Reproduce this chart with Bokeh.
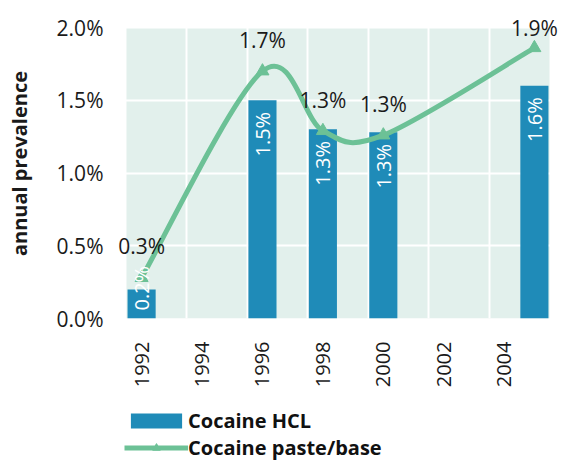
import numpy as np
from bokeh.plotting import figure
from bokeh.layouts import column
from bokeh.models import (ColumnDataSource, FixedTicker, LabelSet, Legend, LegendItem, Range1d,
                          BoxAnnotation)
from bokeh.core.properties import value
from bokeh.embed import file_html
from bokeh.resources import INLINE

# ---- data ----
bar_years = [1992, 1996, 1998, 2000, 2005]
hcl_values = [0.2, 1.5, 1.3, 1.28, 1.6]            # Cocaine HCL, %
line_years = [1992, 1996, 1998, 2000, 2005]
paste_values = [0.28, 1.70, 1.29, 1.26, 1.86]      # Cocaine paste/base, %
y_ticks = [0.0, 0.5, 1.0, 1.5, 2.0]
y_tick_labels = ["0.0%", "0.5%", "1.0%", "1.5%", "2.0%"]
x_ticks = [1992, 1994, 1996, 1998, 2000, 2002, 2004]
series_names = ["Cocaine HCL", "Cocaine paste/base"]
y_title = "annual prevalence"

BLUE = "#1f8bb8"
GREEN = "#6cc196"
BG = "#e2f0ec"
FONT = "Open Sans"

# plot-area extent (years, percent)
X0, X1 = 1991.5, 2005.5
Y0, Y1 = 0.0, 2.0

# layout in pixels (frame is a bit larger than the tinted plot area so labels are not clipped)
W, H, H_LEG = 561, 400, 60
AREA_L, AREA_R, AREA_T, AREA_B = 126, 549, 27, 318     # tinted area, canvas px
FR_L, FR_T = 112, 8                                     # frame left / top, canvas px
FR_R = W
px_x = (AREA_R - AREA_L) / (X1 - X0)
px_y = (AREA_B - AREA_T) / (Y1 - Y0)
x_range = Range1d(X0 - (AREA_L - FR_L) / px_x, X1 + (FR_R - AREA_R) / px_x)
y_range = Range1d(Y0, Y1 + (AREA_T - FR_T) / px_y)

p = figure(width=W, height=H, output_backend="svg", toolbar_location=None,
           x_range=x_range, y_range=y_range,
           min_border_left=FR_L, min_border_right=0, min_border_top=FR_T,
           min_border_bottom=H - AREA_B)
p.outline_line_color = None
p.background_fill_color = "white"
p.border_fill_color = "white"

p.add_layout(BoxAnnotation(left=X0, right=X1, bottom=Y0, top=Y1, fill_color=BG, fill_alpha=1,
                           line_color=None, level="image"))

# grids (white on white outside the tinted area, so invisible there)
p.xgrid.ticker = FixedTicker(ticks=[1993.5 + 2 * i for i in range(6)])
p.xgrid.grid_line_color = "white"
p.xgrid.grid_line_width = 2
p.ygrid.ticker = FixedTicker(ticks=y_ticks)
p.ygrid.grid_line_color = "white"
p.ygrid.grid_line_width = 2

# axes
p.yaxis.ticker = FixedTicker(ticks=y_ticks)
p.yaxis.major_label_overrides = {t: l for t, l in zip(y_ticks, y_tick_labels)}
p.xaxis.ticker = FixedTicker(ticks=x_ticks)
p.xaxis.major_label_overrides = {t: str(t) for t in x_ticks}
p.xaxis.major_label_orientation = np.pi / 2
for ax in (p.xaxis[0], p.yaxis[0]):
    ax.axis_line_color = None
    ax.major_tick_line_color = None
    ax.minor_tick_line_color = None
    ax.major_tick_out = 0
    ax.major_tick_in = 0
    ax.minor_tick_out = 0
    ax.major_label_text_font = FONT
    ax.major_label_text_color = "#1a1a1a"
p.yaxis.major_label_text_font_size = "21px"
p.yaxis.major_label_standoff = 9
p.xaxis.major_label_text_font_size = "20px"
p.xaxis.major_label_standoff = 23
p.yaxis.axis_label = y_title
p.yaxis.axis_label_text_font = FONT
p.yaxis.axis_label_text_font_size = "20px"
p.yaxis.axis_label_text_font_style = "bold"
p.yaxis.axis_label_text_color = "#1a1a1a"
p.yaxis.axis_label_standoff = 21

# bars
bar_src = ColumnDataSource(dict(x=bar_years, top=hcl_values))
p.vbar(x="x", top="top", width=0.93, source=bar_src, fill_color=BLUE, line_color=None)

# smoothed line (Catmull-Rom -> cubic Bezier, computed from the data points)
lx = np.array(line_years, dtype=float)
ly = np.array(paste_values, dtype=float)
n = len(lx)
x0s, y0s, x1s, y1s, c0x, c0y, c1x, c1y = [], [], [], [], [], [], [], []
for i in range(n - 1):
    pxm = lx[i - 1] if i > 0 else lx[i]
    pym = ly[i - 1] if i > 0 else ly[i]
    pxp = lx[i + 2] if i + 2 < n else lx[i + 1]
    pyp = ly[i + 2] if i + 2 < n else ly[i + 1]
    x0s.append(lx[i]); y0s.append(ly[i]); x1s.append(lx[i + 1]); y1s.append(ly[i + 1])
    c0x.append(lx[i] + (lx[i + 1] - pxm) / 6); c0y.append(ly[i] + (ly[i + 1] - pym) / 6)
    c1x.append(lx[i + 1] - (pxp - lx[i]) / 6); c1y.append(ly[i + 1] - (pyp - ly[i]) / 6)
bz_src = ColumnDataSource(dict(x0=x0s, y0=y0s, x1=x1s, y1=y1s, cx0=c0x, cy0=c0y, cx1=c1x, cy1=c1y))
p.bezier(x0="x0", y0="y0", x1="x1", y1="y1", cx0="cx0", cy0="cy0", cx1="cx1", cy1="cy1",
         source=bz_src, line_color=GREEN, line_width=5)
line_src = ColumnDataSource(dict(x=line_years, y=paste_values))
p.scatter(x="x", y="y", source=line_src, marker="triangle", size=13,
          fill_color=GREEN, line_color=GREEN)

# bar labels (white, rotated, inside end; small bars labelled from the base)
hv = np.array(hcl_values)
fits = hv >= 0.4
in_src = ColumnDataSource(dict(x=[b for b, f in zip(bar_years, fits) if f],
                               y=list(hv[fits] - 0.08),
                               t=[f"{v:.1f}%" for v in hv[fits]]))
low_src = ColumnDataSource(dict(x=[b for b, f in zip(bar_years, fits) if not f],
                                y=[0.055] * int((~fits).sum()),
                                t=[f"{v:.1f}%" for v in hv[~fits]]))
for src, align in ((in_src, "right"), (low_src, "left")):
    p.add_layout(LabelSet(x="x", y="y", text="t", source=src, angle=np.pi / 2,
                          text_align=align, text_baseline="middle", text_color="white",
                          text_font=value(FONT), text_font_size="20px"))

# line labels
ly_lab = np.minimum(ly + 0.215, 2.0)
lab_src = ColumnDataSource(dict(x=line_years, y=list(ly_lab), t=[f"{v:.1f}%" for v in ly]))
p.add_layout(LabelSet(x="x", y="y", text="t", source=lab_src, text_align="center",
                      text_baseline="middle", text_color="#1a1a1a", text_font=value(FONT),
                      text_font_size="21px"))

# ---- legend strip (separate figure; its glyphs fall outside its ranges) ----
p2 = figure(width=W, height=H_LEG, output_backend="svg", toolbar_location=None,
            x_range=Range1d(0, 1), y_range=Range1d(0, 1), min_border=0,
            x_axis_location=None, y_axis_location=None)
p2.grid.visible = False
p2.outline_line_color = None
r_bar = p2.vbar(x="x", top="top", width=0.93, source=bar_src, fill_color=BLUE, line_color=None)
r_line = p2.line(x="x", y="y", source=line_src, line_color=GREEN, line_width=5)
r_mark = p2.scatter(x="x", y="y", source=line_src, marker="triangle", size=13,
                    fill_color=GREEN, line_color=GREEN)
legend = Legend(items=[LegendItem(label=series_names[0], renderers=[r_bar]),
                       LegendItem(label=series_names[1], renderers=[r_line, r_mark])],
                location=(12, -1), orientation="vertical",
                glyph_width=64, glyph_height=19, label_height=19, spacing=0,
                label_standoff=0, padding=0, margin=0,
                border_line_color=None, background_fill_alpha=0,
                label_text_font=FONT, label_text_font_size="20px",
                label_text_line_height=1.0,
                label_text_font_style="bold", label_text_color="#111111")
p2.add_layout(legend)

layout = column(p, p2, spacing=0)
open("out.html", "w").write(file_html(layout, INLINE))
